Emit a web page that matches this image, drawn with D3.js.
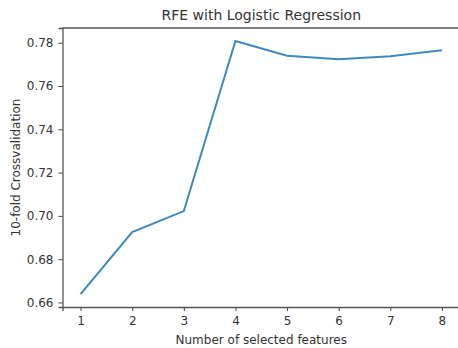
<!DOCTYPE html>
<html><head><meta charset="utf-8">
<script src="https://cdn.jsdelivr.net/npm/d3@7"></script>
<style>body{margin:0;background:#fff}svg{display:block}text{font-family:"DejaVu Sans",sans-serif;fill:#333}</style>
</head><body>
<script>
const features = [1,2,3,4,5,6,7,8];
const scores = [0.6638,0.6925,0.7022,0.7808,0.7740,0.7724,0.7738,0.7765];
const xTicks = [1,2,3,4,5,6,7,8];
const yTicks = [0.66,0.68,0.70,0.72,0.74,0.76,0.78];
const title = "RFE with Logistic Regression";
const xLabel = "Number of selected features";
const yLabel = "10-fold Crossvalidation";

const W=458,H=348;
const m={left:62.5,top:28,right:460,bottom:307};
const svg=d3.select("body").append("svg").attr("width",W).attr("height",H);
const x=d3.scaleLinear().domain([0.65,8.35]).range([m.left,m.right]);
const y=d3.scaleLinear().domain([0.6579,0.7868]).range([m.bottom,m.top]);

const gx=svg.append("g").attr("transform",`translate(0,${m.bottom})`)
  .call(d3.axisBottom(x).tickValues(xTicks).tickFormat(d3.format("d")).tickSize(4).tickPadding(5));
const gy=svg.append("g").attr("transform",`translate(${m.left},0)`)
  .call(d3.axisLeft(y).tickValues(yTicks).tickFormat(d3.format(".2f")).tickSize(4).tickPadding(5));
[gx,gy].forEach(g=>{
  g.selectAll("text").attr("font-size",12).attr("fill","#333").attr("font-family","DejaVu Sans");
  g.selectAll("line,path").attr("stroke","#444");
  g.select(".domain").attr("stroke","#555").attr("stroke-width",1.3);
});
// top spine
svg.append("line").attr("x1",m.left).attr("x2",m.right).attr("y1",m.top).attr("y2",m.top)
  .attr("stroke","#555").attr("stroke-width",1.3);

svg.append("path").datum(features.map((f,i)=>[f,scores[i]]))
  .attr("fill","none").attr("stroke","#3f89c0").attr("stroke-width",2)
  .attr("d",d3.line().x(d=>x(d[0])).y(d=>y(d[1])));

svg.append("text").attr("x",(m.left+m.right)/2).attr("y",20).attr("text-anchor","middle")
  .attr("font-size",14).text(title);
svg.append("text").attr("x",(m.left+m.right)/2).attr("y",344).attr("text-anchor","middle")
  .attr("font-size",12).text(xLabel);
svg.append("text").attr("transform",`translate(20,${(m.top+m.bottom)/2}) rotate(-90)`)
  .attr("text-anchor","middle").attr("font-size",12).text(yLabel);
</script>
</body></html>
